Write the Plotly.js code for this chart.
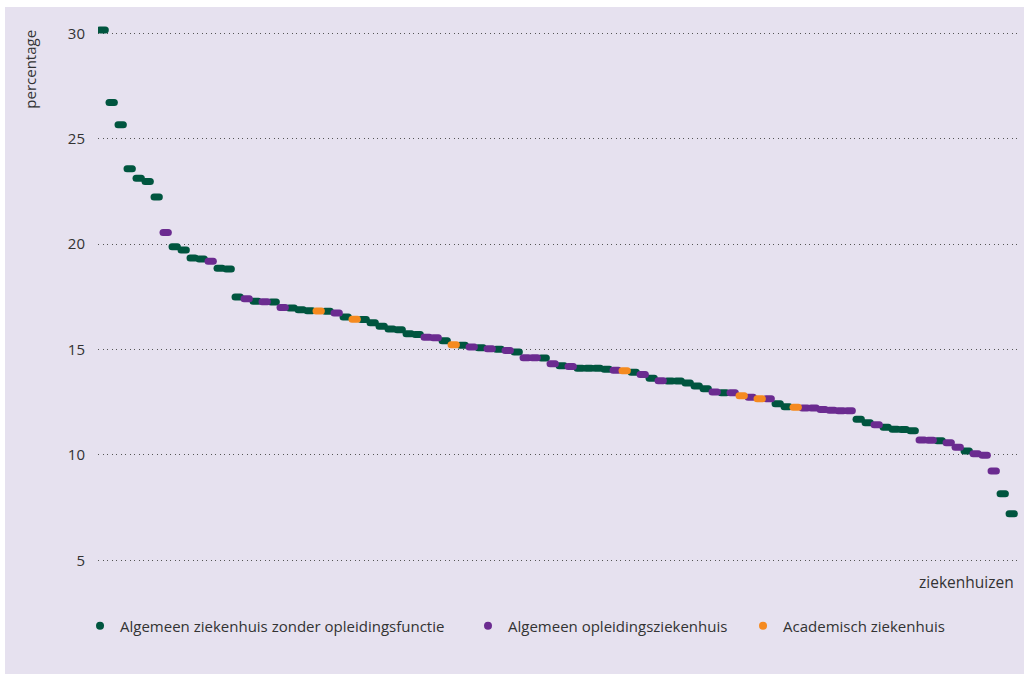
<!DOCTYPE html>
<html>
<head>
<meta charset="utf-8">
<script src="https://cdn.plot.ly/plotly-3.0.1.min.js"></script>
<style>
  html, body { margin: 0; padding: 0; background: #ffffff; }
  #panel { position: absolute; left: 5px; top: 7px; width: 1019px; height: 667px; background: #e6e1ef; }
  #chart { position: absolute; left: 0; top: 0; width: 1029px; height: 674px; }
  .scatterlayer .point { stroke-linecap: round; }
</style>
</head>
<body>
<div id="panel"></div>
<div id="chart"></div>
<script>
// Percentage per hospital (sorted)
const values = [
  30.17, 26.72, 25.67, 23.58, 23.13, 22.98, 22.24, 20.56, 19.88, 19.72, 19.35, 19.30, 19.19, 18.86, 18.82,
  17.49, 17.41, 17.29, 17.27, 17.26, 17.00, 16.97, 16.89, 16.84, 16.83, 16.82, 16.74, 16.55, 16.44, 16.42,
  16.27, 16.10, 15.98, 15.94, 15.75, 15.71, 15.58, 15.56, 15.42, 15.23, 15.20, 15.12, 15.09, 15.04, 15.01,
  14.96, 14.88, 14.61, 14.61, 14.60, 14.33, 14.23, 14.20, 14.11, 14.11, 14.11, 14.06, 14.02, 13.99, 13.92,
  13.81, 13.64, 13.52, 13.51, 13.51, 13.41, 13.27, 13.14, 12.99, 12.95, 12.95, 12.81, 12.73, 12.67, 12.67,
  12.43, 12.29, 12.26, 12.23, 12.22, 12.16, 12.12, 12.10, 12.10, 11.69, 11.53, 11.43, 11.31, 11.22, 11.20,
  11.15, 10.71, 10.69, 10.67, 10.58, 10.36, 10.18, 10.05, 9.98, 9.24, 8.16, 7.21
];
// Hospital type per hospital: A = zonder opleidingsfunctie, B = opleidingsziekenhuis, C = academisch
const groups = [
  'A','A','A','A','A','A','A','B','A','A','A','A','B','A','A',
  'A','B','A','B','A','B','A','A','A','C','A','B','A','C','A',
  'A','A','A','A','A','A','B','B','A','C','A','B','A','B','A',
  'B','A','B','B','A','B','A','B','A','A','A','A','B','C','A',
  'B','A','B','A','A','A','A','A','B','A','B','C','B','C','B',
  'A','A','C','B','B','B','B','B','B','A','A','B','A','A','A',
  'A','B','B','A','B','B','A','B','B','B','A','A'
];
const groupKeys = ['A', 'B', 'C'];
const groupNames = ['Algemeen ziekenhuis zonder opleidingsfunctie', 'Algemeen opleidingsziekenhuis', 'Academisch ziekenhuis'];
const groupColors = ['#00553f', '#6b2b90', '#f58a1f'];
const legendIds = ['legend', 'legend2', 'legend3'];
const yTicks = [5, 10, 15, 20, 25, 30];

const ranks = values.map((v, i) => i + 1);

const traces = [];
groupKeys.forEach((k, gi) => {
  const xs = [], ys = [];
  values.forEach((v, i) => { if (groups[i] === k) { xs.push(ranks[i]); ys.push(v); } });
  traces.push({
    type: 'scatter', mode: 'markers', x: xs, y: ys, showlegend: false,
    hoverinfo: 'y',
    marker: { symbol: 'line-ew', size: 3.8, color: groupColors[gi], line: { color: groupColors[gi], width: 7 } }
  });
});
groupKeys.forEach((k, gi) => {
  traces.push({
    type: 'scatter', mode: 'markers', x: [null], y: [null], name: groupNames[gi], showlegend: true,
    legend: legendIds[gi],
    marker: { symbol: 'circle', size: 8, color: groupColors[gi] }
  });
});

const font = { family: 'Open Sans, sans-serif', size: 15, color: '#333333' };
const legendFont = { family: 'Open Sans, sans-serif', size: 15, color: '#333333' };
function legendAt(xp) {
  return { orientation: 'h', x: xp, xanchor: 'left', y: -0.092, yanchor: 'middle',
           font: legendFont, bgcolor: 'rgba(0,0,0,0)' };
}

const layout = {
  width: 1029, height: 674,
  paper_bgcolor: 'rgba(0,0,0,0)', plot_bgcolor: 'rgba(0,0,0,0)',
  margin: { l: 98, r: 9, t: 20, b: 99 },
  font: font,
  showlegend: true,
  xaxis: {
    range: [0.48, 102.92], showgrid: false, zeroline: false, showline: false,
    showticklabels: false, ticks: ''
  },
  yaxis: {
    range: [4.3, 30.64], tickvals: yTicks, ticktext: yTicks.map(String),
    showgrid: true, gridcolor: '#555555', gridwidth: 1, griddash: '1px,3.5px',
    zeroline: false, showline: false, ticks: '', ticklabelstandoff: 12,
    tickfont: { family: 'Open Sans, sans-serif', size: 15, color: '#333333' }
  },
  legend: legendAt(-0.0195),
  legend2: legendAt(0.4013),
  legend3: legendAt(0.6996),
  annotations: [
    { text: 'percentage', xref: 'paper', yref: 'paper', x: -0.0738, y: 0.987, xanchor: 'center', yanchor: 'top',
      textangle: -90, showarrow: false, font: font },
    { text: 'ziekenhuizen', xref: 'paper', yref: 'paper', x: 0.9957, y: -0.0126, xanchor: 'right', yanchor: 'middle',
      showarrow: false, font: { family: 'Open Sans, sans-serif', size: 15.5, color: '#333333' } }
  ]
};

Plotly.newPlot('chart', traces, layout, { displayModeBar: false, staticPlot: true });
</script>
</body>
</html>
